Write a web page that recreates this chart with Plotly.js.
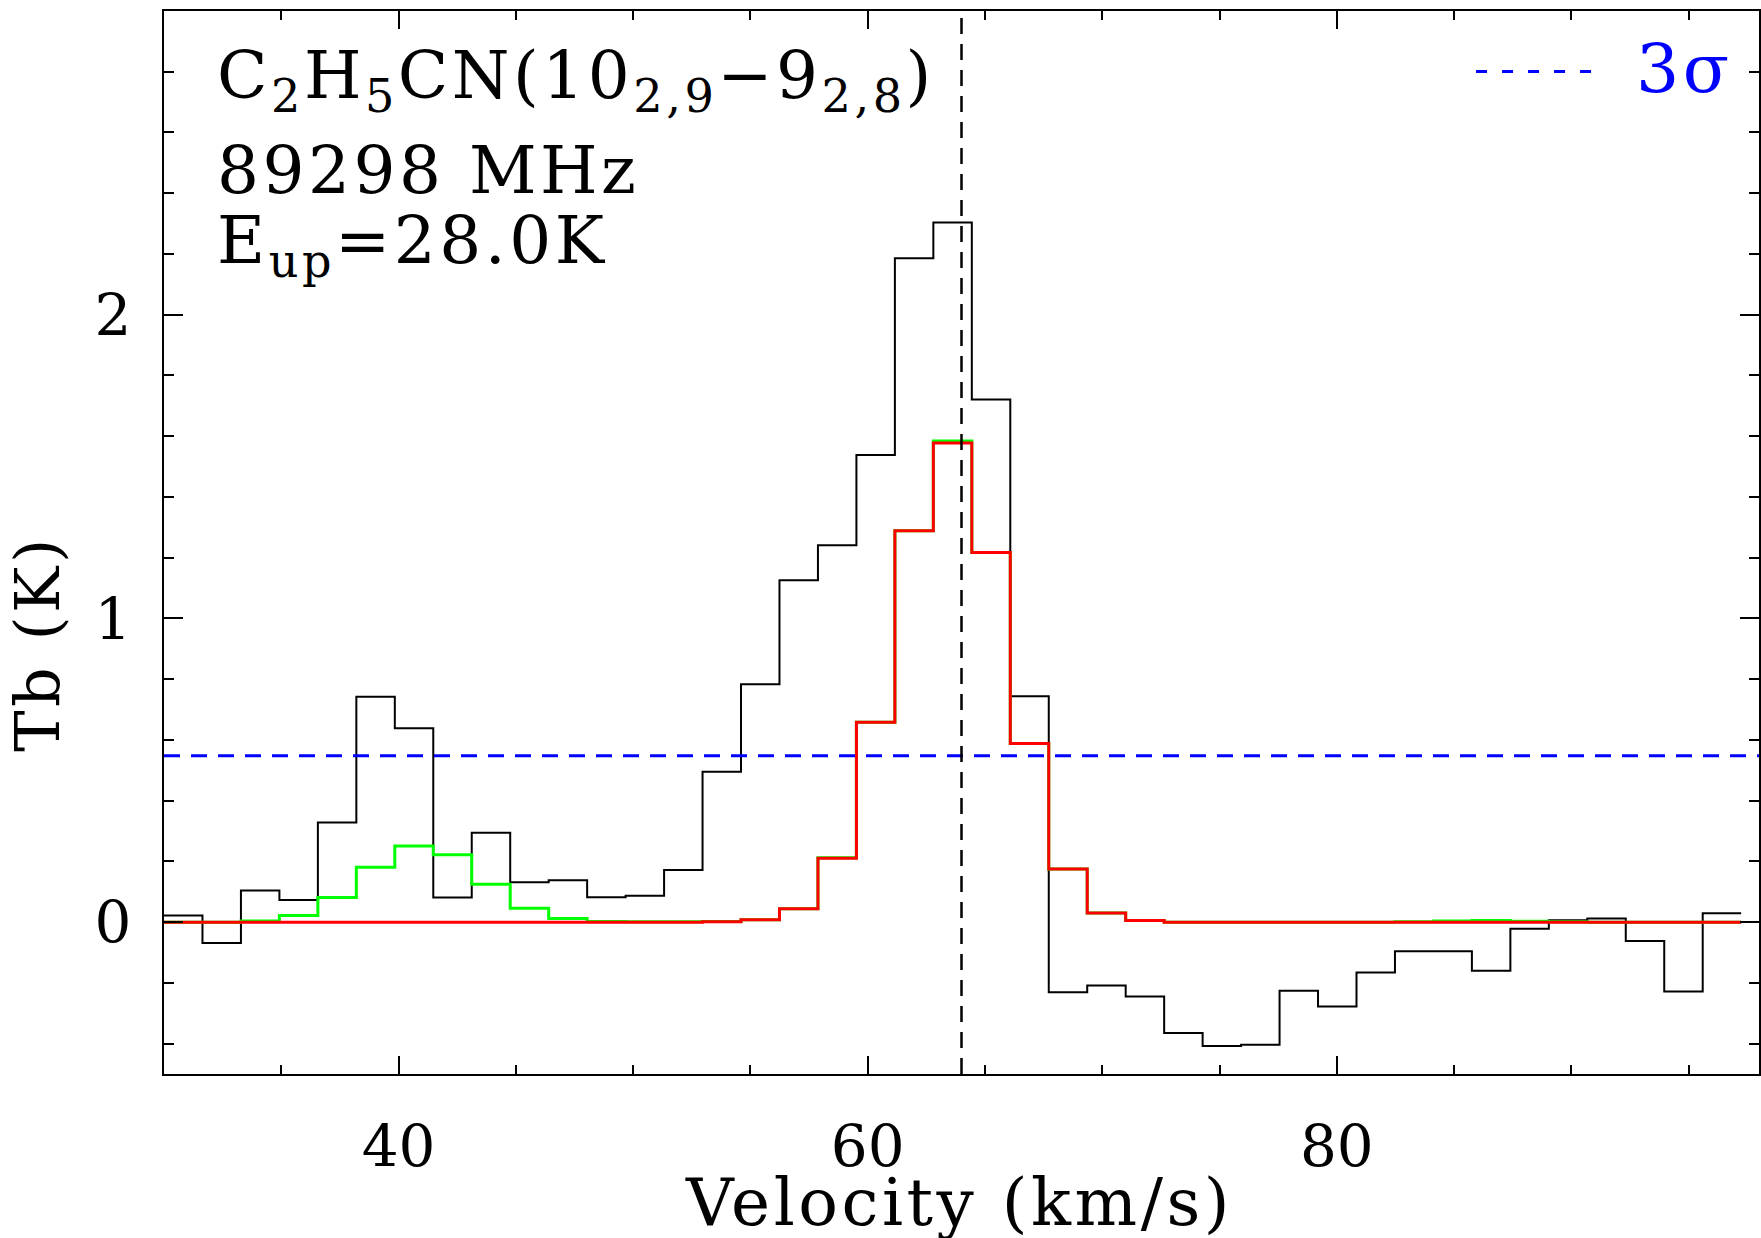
<!DOCTYPE html>
<html>
<head>
<meta charset="utf-8">
<script src="https://cdn.plot.ly/plotly-3.0.1.min.js"></script>
<style>
  html, body { margin: 0; padding: 0; background: #ffffff; }
  #chart { width: 1761px; height: 1238px; }
  /* wide, evenly spaced lettering for the labels */
  .annotation-text { letter-spacing: 3.5px; }
</style>
</head>
<body>
<div id="chart"></div>
<script>
// Channel centres of the spectrum (km/s)
const velocity = [
  30.82, 32.46, 34.10, 35.74, 37.38, 39.02, 40.66, 42.30, 43.94, 45.58,
  47.22, 48.86, 50.50, 52.14, 53.78, 55.42, 57.06, 58.70, 60.34, 61.98,
  63.62, 65.26, 66.90, 68.54, 70.18, 71.82, 73.46, 75.10, 76.74, 78.38,
  80.02, 81.66, 83.30, 84.94, 86.58, 88.22, 89.86, 91.50, 93.14, 94.78,
  96.42
];
const channelWidth = 1.64;

// Observed brightness temperature (K)
const tbObserved = [
  0.022, -0.069, 0.104, 0.073, 0.328, 0.742, 0.638, 0.081, 0.294, 0.131,
  0.138, 0.082, 0.087, 0.172, 0.495, 0.783, 1.126, 1.241, 1.538, 2.186,
  2.304, 1.721, 0.744, -0.231, -0.209, -0.245, -0.365, -0.408, -0.404, -0.226,
  -0.278, -0.166, -0.096, -0.096, -0.160, -0.022, 0.006, 0.012, -0.062, -0.228,
  0.029
];

// Total LTE model, all species (K)
const tbModelTotal = [
  0.000, 0.000, 0.004, 0.022, 0.081, 0.181, 0.251, 0.222, 0.125, 0.046,
  0.012, 0.002, 0.001, 0.001, 0.002, 0.008, 0.044, 0.212, 0.658, 1.289,
  1.584, 1.217, 0.588, 0.175, 0.030, 0.005, 0.000, 0.000, 0.000, 0.000,
  0.000, 0.000, 0.001, 0.004, 0.005, 0.003, 0.001, 0.000, 0.000, 0.000,
  0.000
];

// LTE model of the C2H5CN transition alone (K)
const tbModelLine = [
  0.000, 0.000, 0.000, 0.000, 0.000, 0.000, 0.000, 0.000, 0.000, 0.000,
  0.000, 0.000, 0.000, 0.000, 0.001, 0.008, 0.044, 0.210, 0.658, 1.289,
  1.578, 1.217, 0.588, 0.175, 0.030, 0.005, 0.000, 0.000, 0.000, 0.000,
  0.000, 0.000, 0.000, 0.000, 0.000, 0.000, 0.000, 0.000, 0.000, 0.000,
  0.000
];

const vSystemic = 64.0;     // source velocity (km/s)
const threeSigma = 0.548;   // 3 rms noise level (K)

const xTickValues = [40, 60, 80];
const yTickValues = [0, 1, 2];

const labelLines = [
  'C<sub>2</sub>H<sub>5</sub>CN(10<sub>2,9</sub>\u22129<sub>2,8</sub>)',
  '89298 MHz',
  'E<sub>up</sub>=28.0K'
];
const sigmaLabel = '3\u03c3';
const xTitle = 'Velocity (km/s)';
const yTitle = 'Tb (K)';

const FONT = 'DejaVu Serif, Liberation Serif, serif';

// Histogram-style outline: every channel drawn across its full width
function stepOutline(centres, values) {
  const xs = centres.map(v => v - channelWidth / 2);
  xs.push(centres[centres.length - 1] + channelWidth / 2);
  const ys = values.slice();
  ys.push(values[values.length - 1]);
  return { x: xs, y: ys };
}

const obs = stepOutline(velocity, tbObserved);
const tot = stepOutline(velocity, tbModelTotal);
const lin = stepOutline(velocity, tbModelLine);

const traces = [
  { x: obs.x, y: obs.y, type: 'scatter', mode: 'lines',
    line: { shape: 'hv', color: '#000000', width: 2 }, hoverinfo: 'skip' },
  { x: tot.x, y: tot.y, type: 'scatter', mode: 'lines',
    line: { shape: 'hv', color: '#00ff00', width: 3 }, hoverinfo: 'skip' },
  { x: lin.x, y: lin.y, type: 'scatter', mode: 'lines',
    line: { shape: 'hv', color: '#ff0000', width: 3 }, hoverinfo: 'skip' }
];

const axisCommon = {
  showgrid: false, zeroline: false,
  showline: true, linecolor: '#000000', linewidth: 2,
  mirror: 'allticks', ticks: 'inside', tickcolor: '#000000', tickwidth: 2,
  tickfont: { family: FONT, size: 58, color: '#000000' },
  automargin: false, fixedrange: true
};

const layout = {
  width: 1761, height: 1238,
  margin: { l: 164, r: 2, t: 11, b: 164, pad: 0 },
  paper_bgcolor: '#ffffff', plot_bgcolor: '#ffffff',
  showlegend: false,
  font: { family: FONT, color: '#000000' },
  xaxis: Object.assign({}, axisCommon, {
    range: [30, 98],
    tickmode: 'array', tickvals: xTickValues, ticktext: xTickValues.map(String),
    ticklen: 18, ticklabelstandoff: 20,
    minor: { dtick: 5, tick0: 0, ticks: 'inside', ticklen: 9, tickwidth: 2, tickcolor: '#000000' }
  }),
  yaxis: Object.assign({}, axisCommon, {
    range: [-0.5, 3.0],
    tickmode: 'array', tickvals: yTickValues, ticktext: yTickValues.map(String),
    ticklen: 19, ticklabelstandoff: 19,
    minor: { dtick: 0.2, tick0: 0, ticks: 'inside', ticklen: 10, tickwidth: 2, tickcolor: '#000000' }
  }),
  shapes: [
    { type: 'line', xref: 'paper', yref: 'y', x0: 0, x1: 1, y0: threeSigma, y1: threeSigma,
      line: { color: '#0000ff', width: 3, dash: '16px,11px' }, layer: 'above' },
    { type: 'line', xref: 'x', yref: 'paper', x0: vSystemic, x1: vSystemic, y0: 0, y1: 1,
      line: { color: '#000000', width: 2.5, dash: '16px,10px' }, layer: 'above' },
    // key swatch for the noise level
    { type: 'line', xref: 'paper', yref: 'paper', x0: 0.8226, x1: 0.8978, y0: 0.943, y1: 0.943,
      line: { color: '#0000ff', width: 3, dash: '11px,15px' } }
  ],
  annotations: [
    { text: labelLines[0], xref: 'paper', yref: 'paper', x: 0.032, y: 0.935,
      xanchor: 'left', yanchor: 'middle', showarrow: false,
      font: { family: FONT, size: 66, color: '#000000' } },
    { text: labelLines[1], xref: 'paper', yref: 'paper', x: 0.032, y: 0.8504,
      xanchor: 'left', yanchor: 'middle', showarrow: false,
      font: { family: FONT, size: 66, color: '#000000' } },
    { text: labelLines[2], xref: 'paper', yref: 'paper', x: 0.032, y: 0.78,
      xanchor: 'left', yanchor: 'middle', showarrow: false,
      font: { family: FONT, size: 66, color: '#000000' } },
    { text: sigmaLabel, xref: 'paper', yref: 'paper', x: 0.9535, y: 0.946,
      xanchor: 'center', yanchor: 'middle', showarrow: false,
      font: { family: FONT, size: 68, color: '#0000ff' } },
    { text: xTitle, xref: 'paper', yref: 'paper', x: 0.4987, y: -0.1205,
      xanchor: 'center', yanchor: 'middle', showarrow: false,
      font: { family: FONT, size: 66, color: '#000000' } },
    { text: yTitle, xref: 'paper', yref: 'paper', x: -0.0794, y: 0.405,
      xanchor: 'center', yanchor: 'middle', textangle: -90, showarrow: false,
      font: { family: FONT, size: 62, color: '#000000' } }
  ]
};

Plotly.newPlot('chart', traces, layout, { staticPlot: true, displayModeBar: false });
</script>
</body>
</html>
